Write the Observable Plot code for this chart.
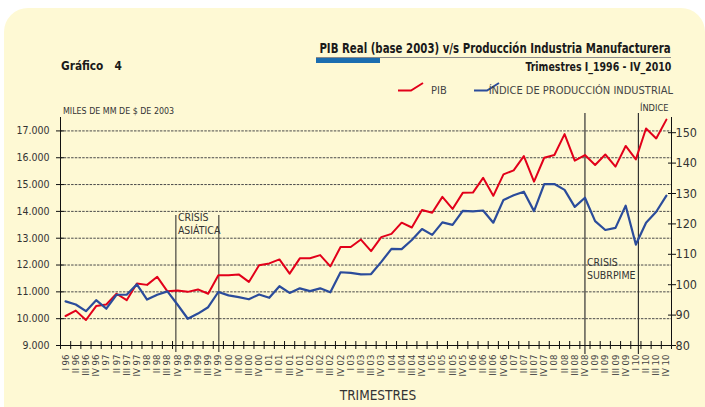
<!DOCTYPE html>
<html><head><meta charset="utf-8">
<script src="https://cdn.jsdelivr.net/npm/d3@7"></script>
<script src="https://cdn.jsdelivr.net/npm/@observablehq/plot@0.6"></script>
<style>
html,body{margin:0;padding:0;background:#fff;}
#wrap{position:relative;width:705px;height:407px;overflow:hidden;font-family:"Liberation Sans Narrow","DejaVu Sans Condensed",sans-serif;}
#panel{position:absolute;left:4px;top:8px;width:701px;height:430px;background:#FEF9D4;border-radius:24px 24px 0 0;}
#chart{position:absolute;left:0;top:0;}
.t{position:absolute;white-space:nowrap;line-height:1;}
</style></head><body>
<div id="wrap">
  <div id="panel"></div>
  <div id="chart"></div>
  <div class="t" style="right:34px;top:40.6px;font-size:14px;font-weight:bold;color:#1a1a1a;transform:scaleX(0.81);transform-origin:right center;">PIB Real (base 2003) v/s Producción Industria Manufacturera</div>
  <div style="position:absolute;left:316px;top:57px;width:355px;height:1px;background:#8a8a8a;"></div>
  <div style="position:absolute;left:316px;top:58px;width:64px;height:5px;background:#1B6DB0;"></div>
  <div class="t" style="right:34px;top:61.8px;font-size:11.5px;font-weight:bold;color:#1a1a1a;transform:scaleX(0.91);transform-origin:right center;">Trimestres I_1996 - IV_2010</div>
  <div class="t" style="left:61px;top:60.4px;font-size:12.5px;font-weight:bold;color:#1a1a1a;transform:scaleX(0.94);transform-origin:left center;">Gráfico&nbsp;&nbsp;&nbsp;4</div>
  <svg style="position:absolute;left:398px;top:82px;" width="27" height="10"><polyline points="0,8.5 13,8.5 25,1" fill="none" stroke="#E2001A" stroke-width="2"/></svg>
  <div class="t" style="left:431px;top:84.7px;font-size:11px;color:#444;">PIB</div>
  <svg style="position:absolute;left:474px;top:82px;" width="27" height="10"><polyline points="0,8.5 13,8.5 25,1" fill="none" stroke="#2B4C9B" stroke-width="2"/></svg>
  <div class="t" style="right:32px;top:84.7px;font-size:11px;color:#444;">ÍNDICE DE PRODUCCIÓN INDUSTRIAL</div>
  <div class="t" style="left:62.5px;top:105.5px;font-size:9.2px;color:#333;transform:scaleX(0.96);transform-origin:left center;">MILES DE MM DE $ DE 2003</div>
  <div class="t" style="left:640px;top:102.9px;font-size:9.2px;color:#333;">ÍNDICE</div>
  <div class="t" style="left:0;width:756px;text-align:center;top:388.6px;font-size:13.5px;color:#333;">TRIMESTRES</div>
</div>
<script>
// PIB real, miles de MM de $ de 2003 (I 1996 .. IV 2010)
const pib = [10100, 10300, 9950, 10470, 10530, 10930, 10690, 11310, 11260, 11560,
  11020, 11050, 11000, 11090, 10930, 11620, 11620, 11650, 11370, 11990,
  12060, 12210, 11680, 12250, 12250, 12370, 11950, 12670, 12670, 12950,
  12520, 13040, 13160, 13580, 13400, 14050, 13950, 14540, 14090, 14690,
  14700, 15250, 14580, 15380, 15530, 16060, 15110, 16000, 16100, 16880,
  15890, 16100, 15730, 16120, 15670, 16440, 15940, 17090, 16720, 17420];
// Índice de producción industrial
const ipi = [94.5, 93.5, 91.3, 94.9, 92.1, 96.7, 96.7, 100.1, 95.1, 96.7,
  97.8, 93.4, 88.8, 90.5, 92.6, 97.6, 96.5, 95.9, 95.2, 96.8,
  95.7, 99.5, 97.3, 98.8, 97.9, 98.8, 97.5, 104.1, 103.9, 103.4,
  103.5, 107.5, 111.8, 111.7, 114.7, 118.3, 116.4, 120.5, 119.7, 124.3,
  124.1, 124.4, 120.4, 127.9, 129.4, 130.6, 124.2, 133.1, 133.1, 131.2,
  125.6, 128.6, 120.9, 118.0, 118.7, 126.0, 113.2, 120.4, 124.0, 129.3];
const quarters = ["I", "II", "III", "IV"];
const years = ["96", "97", "98", "99", "00", "01", "02", "03", "04", "05", "06", "07", "08", "09", "10"];
const tickLabels = years.flatMap(y => quarters.map(q => q + " " + y));
const leftTicks = [9000, 10000, 11000, 12000, 13000, 14000, 15000, 16000, 17000];
const gridTicks = [10000, 11000, 12000, 13000, 14000, 15000, 16000, 17000];
const rightTicks = [80, 90, 100, 110, 120, 130, 140, 150];
const leftDomain = [9000, 17500];
const rightDomain = [80, 155];
const asiaLines = [10.83, 15.05];
const subprimeLines = [51, 56.25];
const crisisLabels = [
  {x: 10.83, y: 13977, text: "CRISIS\nASIÁTICA"},
  {x: 51, y: 12281, text: "CRISIS\nSUBRPIME"}
];

const k = (leftDomain[1] - leftDomain[0]) / (rightDomain[1] - rightDomain[0]);
const toLeft = v => leftDomain[0] + (v - rightDomain[0]) * k;
const fromLeft = v => rightDomain[0] + (v - leftDomain[0]) / k;
const fmtThousands = d => d3.format(",")(d).replace(/,/g, ".");

const rows = pib.map((p, i) => ({i, pib: p, ipi: toLeft(ipi[i])}));
const n = pib.length;
const bounds = d3.range(n + 1).map(i => i - 0.5);
const font = "Liberation Sans Narrow, DejaVu Sans Condensed, sans-serif";

const chart = Plot.plot({
  width: 705, height: 407,
  marginTop: 117, marginBottom: 62, marginLeft: 60, marginRight: 34,
  style: {background: "transparent", fontFamily: font, overflow: "visible"},
  x: {type: "linear", domain: [-0.5, n - 0.5], axis: null},
  y: {domain: leftDomain, axis: null},
  marks: [
    Plot.ruleY(gridTicks, {stroke: "#4a4a4a", strokeDasharray: "2.5,1.2", strokeWidth: 1}),
    Plot.ruleX(asiaLines, {stroke: "#222", strokeWidth: 1, insetTop: 98, insetBottom: -7}),
    Plot.ruleX(subprimeLines, {stroke: "#333", strokeWidth: 1.2, insetTop: -4, insetBottom: -9}),
    Plot.text(crisisLabels, {x: "x", y: "y", text: "text", textAnchor: "start", lineAnchor: "top", dx: 2, fontSize: 10.5, lineHeight: 1.2, fill: "#333"}),
    Plot.line(rows, {x: "i", y: "pib", stroke: "#E2001A", strokeWidth: 2}),
    Plot.line(rows, {x: "i", y: "ipi", stroke: "#2B4C9B", strokeWidth: 2.2}),
    Plot.ruleX([-0.5, n - 0.5], {stroke: "#111", strokeWidth: 1}),
    Plot.ruleY([leftDomain[0]], {stroke: "#111", strokeWidth: 1}),
    Plot.axisY({ticks: leftTicks, tickSize: 8, dx: 4, tickFormat: () => "", color: "#111"}),
    Plot.axisY({ticks: leftTicks, tickSize: 0, tickPadding: 11, tickFormat: fmtThousands, fontSize: 10.5, color: "#333"}),
    Plot.axisY({anchor: "right", ticks: rightTicks.map(toLeft), tickSize: 8, dx: -4, tickFormat: () => "", color: "#111"}),
    Plot.axisY({anchor: "right", ticks: rightTicks.map(toLeft), tickSize: 0, tickPadding: 4, tickFormat: d => String(Math.round(fromLeft(d))), fontSize: 12.5, color: "#333"}),
    Plot.axisX({ticks: bounds, tickSize: 8, dy: -4, tickFormat: () => "", color: "#111"}),
    Plot.axisX({ticks: d3.range(n), tickSize: 0, tickPadding: 9, tickRotate: -90, tickFormat: i => tickLabels[i], fontSize: 9.5, color: "#444"})
  ]
});
document.getElementById("chart").appendChild(chart);
</script>
</body></html>
